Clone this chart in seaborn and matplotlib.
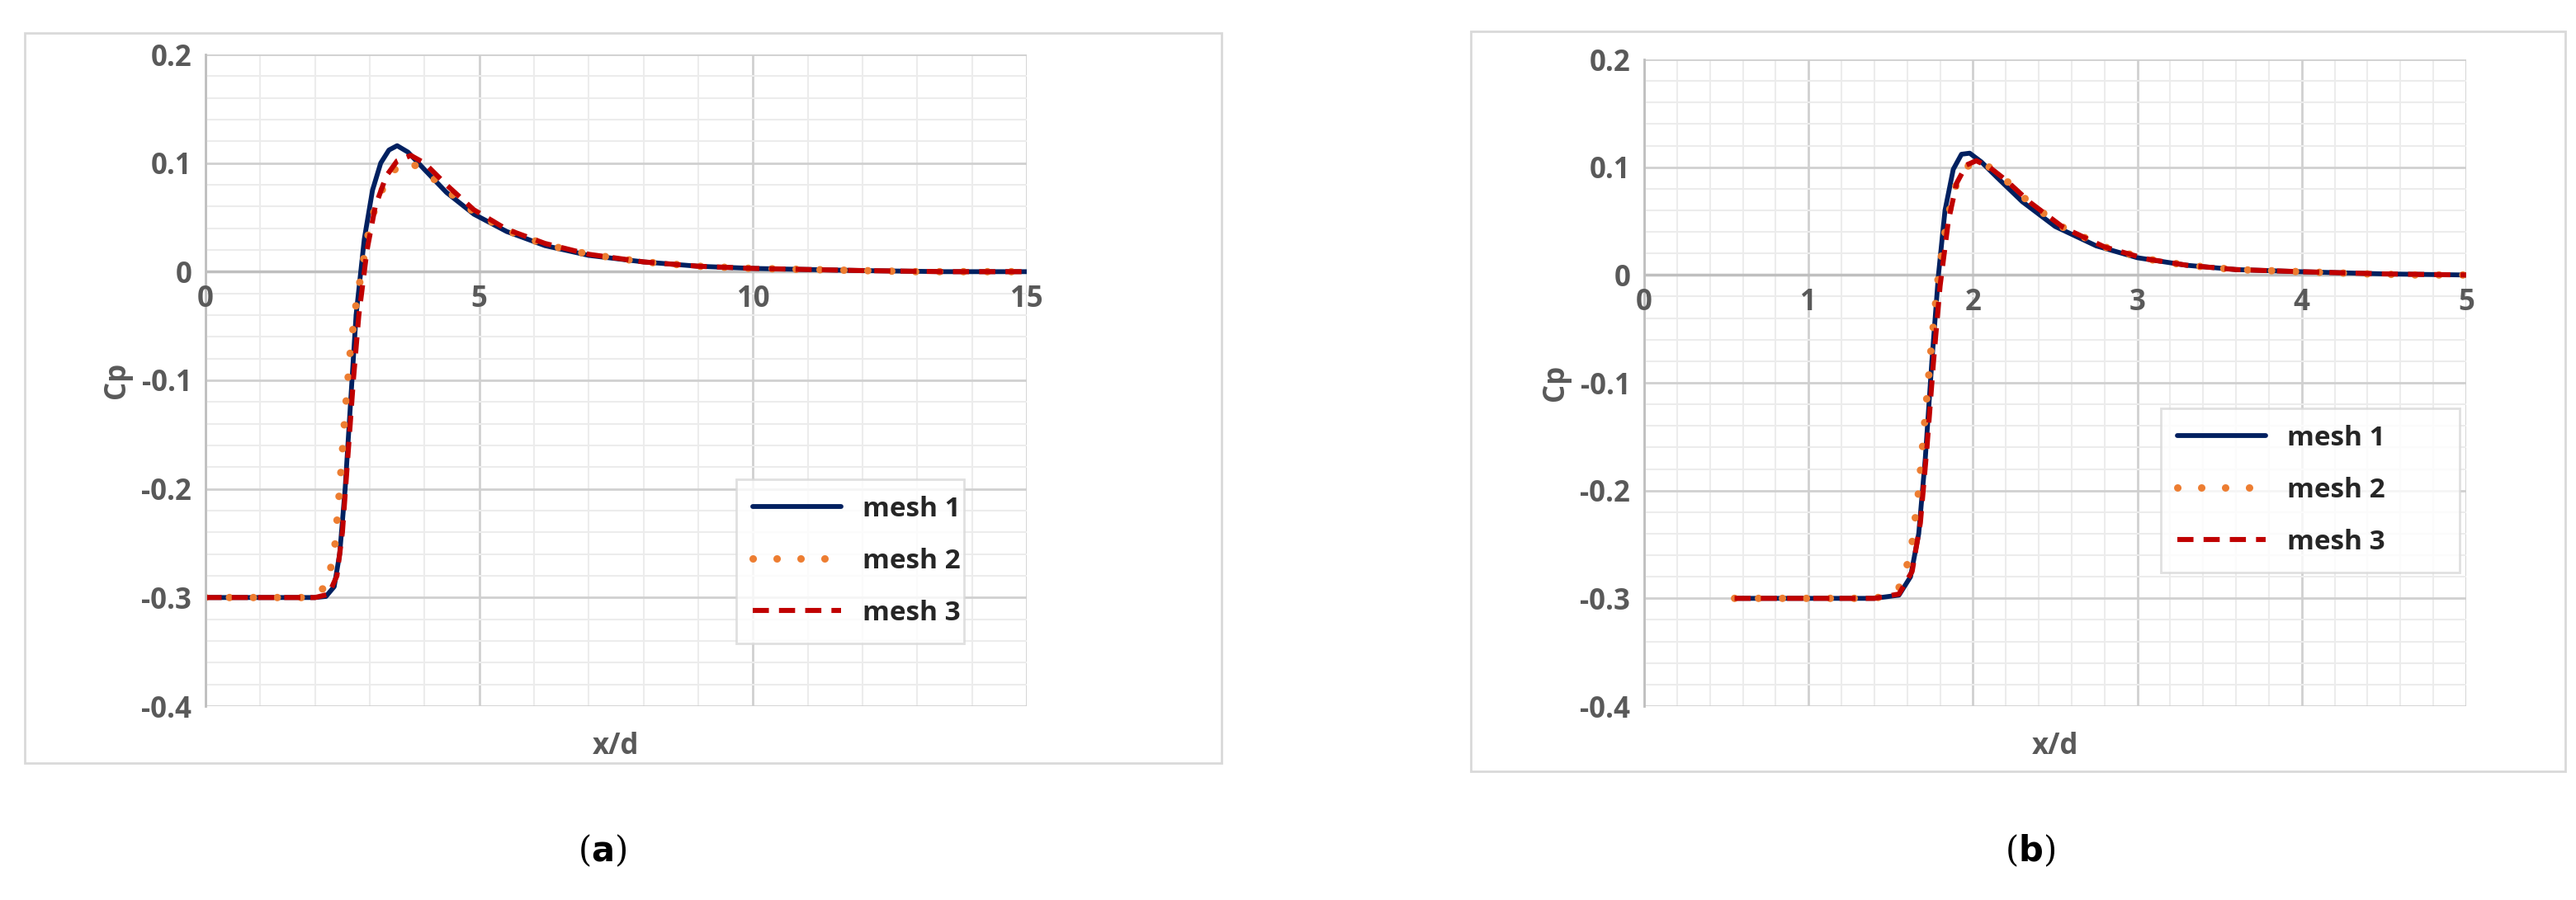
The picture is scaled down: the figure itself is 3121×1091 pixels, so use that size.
import matplotlib
matplotlib.use("Agg")
import matplotlib.pyplot as plt
import seaborn as sns
import pandas as pd
import numpy as np
from matplotlib.patches import Rectangle
from matplotlib.ticker import MultipleLocator

sns.set_style("white")
plt.rcParams['font.family'] = ['Open Sans', 'DejaVu Sans']

# Panel (a)
a_x1 = [0, 1, 2, 2.2, 2.35, 2.45, 2.55, 2.65, 2.75, 2.9, 3.05, 3.2, 3.35, 3.5, 3.7, 4.0, 4.4, 4.9, 5.5, 6.2, 7, 8, 9, 10, 11, 12, 13.5, 15]
a_y1 = [-0.3, -0.3, -0.3, -0.299, -0.29, -0.26, -0.2, -0.12, -0.04, 0.03, 0.075, 0.1, 0.112, 0.116, 0.11, 0.094, 0.073, 0.053, 0.037, 0.024, 0.015, 0.009, 0.005, 0.003, 0.002, 0.001, 0.0, 0.0]
a_x2 = [0, 0.5, 1, 1.5, 1.9, 2.2, 2.35, 2.45, 2.55, 2.65, 2.75, 2.85, 2.95, 3.1, 3.25, 3.4, 3.55, 3.75, 4.0, 4.4, 4.9, 5.5, 6.2, 7, 8, 9, 10, 11, 12, 13, 14, 15]
a_y2 = [-0.3, -0.3, -0.3, -0.3, -0.3, -0.29, -0.26, -0.2, -0.13, -0.07, -0.03, 0.0, 0.03, 0.06, 0.078, 0.09, 0.1, 0.1, 0.093, 0.075, 0.055, 0.038, 0.025, 0.016, 0.009, 0.005, 0.003, 0.002, 0.001, 0.0, 0.0, 0.0]
a_x3 = [0, 1, 2, 2.25, 2.4, 2.5, 2.6, 2.7, 2.8, 2.95, 3.1, 3.3, 3.5, 3.75, 4.0, 4.4, 4.9, 5.5, 6.2, 7, 8, 9, 10, 11, 12, 13.5, 15]
a_y3 = [-0.3, -0.3, -0.3, -0.297, -0.28, -0.24, -0.17, -0.1, -0.04, 0.02, 0.06, 0.088, 0.102, 0.107, 0.1, 0.08, 0.057, 0.039, 0.026, 0.016, 0.009, 0.005, 0.003, 0.002, 0.001, 0.0, 0.0]

# Panel (b)
b_x1 = [0.55, 1.0, 1.4, 1.55, 1.62, 1.67, 1.71, 1.75, 1.79, 1.83, 1.88, 1.93, 1.98, 2.05, 2.15, 2.3, 2.5, 2.75, 3.0, 3.3, 3.6, 4.0, 4.5, 5.0]
b_y1 = [-0.3, -0.3, -0.3, -0.297, -0.28, -0.24, -0.17, -0.08, 0.0, 0.06, 0.098, 0.112, 0.113, 0.105, 0.09, 0.068, 0.045, 0.027, 0.016, 0.009, 0.005, 0.003, 0.001, 0.0]
b_x2 = [0.55, 0.7, 0.85, 1.0, 1.15, 1.3, 1.45, 1.55, 1.62, 1.67, 1.71, 1.75, 1.79, 1.84, 1.9, 1.96, 2.02, 2.1, 2.2, 2.35, 2.55, 2.8, 3.05, 3.3, 3.6, 4.0, 4.4, 4.7, 5.0]
b_y2 = [-0.3, -0.3, -0.3, -0.3, -0.3, -0.3, -0.299, -0.29, -0.26, -0.2, -0.13, -0.06, 0.0, 0.05, 0.085, 0.1, 0.106, 0.1, 0.088, 0.066, 0.044, 0.026, 0.015, 0.009, 0.005, 0.003, 0.001, 0.0, 0.0]
b_x3 = [0.55, 1.0, 1.4, 1.55, 1.63, 1.68, 1.72, 1.76, 1.8, 1.85, 1.9, 1.96, 2.02, 2.1, 2.2, 2.35, 2.55, 2.8, 3.05, 3.3, 3.6, 4.0, 4.5, 5.0]
b_y3 = [-0.3, -0.3, -0.3, -0.296, -0.275, -0.23, -0.16, -0.08, -0.01, 0.05, 0.085, 0.102, 0.106, 0.1, 0.088, 0.067, 0.044, 0.026, 0.015, 0.009, 0.005, 0.003, 0.001, 0.0]

labels = ["mesh 1", "mesh 2", "mesh 3"]
colors = ["#002060", "#ED7D31", "#C00000"]
yticks = [0.2, 0.1, 0, -0.1, -0.2, -0.3, -0.4]

W, H = 3121, 1091
fig = plt.figure(figsize=(W / 100, H / 100), dpi=100)

def fx(px): return px / W
def fy(py): return 1 - py / H

# frames
for (x0, y0, x1, y1) in [(30, 40, 1480, 925), (1782, 38, 3108, 935)]:
    fig.patches.append(Rectangle((fx(x0), fy(y1)), fx(x1) - fx(x0), fy(y0) - fy(y1),
                                 transform=fig.transFigure, fill=False, edgecolor="#d9d9d9", lw=2))

gray = "#595959"

def panel(rect, data, xmax, xmajor, xminor, legend_rect, caption, cap_x):
    l, t, r, b = rect
    ax = fig.add_axes([fx(l), fy(b), fx(r) - fx(l), fy(t) - fy(b)])
    styles = [dict(lw=4.2, ls="-"), dict(lw=6.5, ls=(0, (0.01, 3.2)), dash_capstyle="round"),
              dict(lw=4.4, ls=(0, (3.2, 2.0)))]
    for i, (xs, ys) in enumerate(data):
        df = pd.DataFrame({"x": xs, "y": ys})
        sns.lineplot(data=df, x="x", y="y", ax=ax, color=colors[i], label=labels[i],
                     sort=False, estimator=None, **styles[i])
    ax.set_xlim(0, xmax)
    ax.set_ylim(-0.4, 0.2)
    ax.xaxis.set_major_locator(MultipleLocator(xmajor))
    ax.xaxis.set_minor_locator(MultipleLocator(xminor))
    ax.set_yticks(yticks)
    ax.set_yticklabels([("%g" % v) for v in yticks])
    ax.yaxis.set_minor_locator(MultipleLocator(0.02))
    ax.grid(True, which="major", color="#d0d0d0", lw=2)
    ax.grid(True, which="minor", color="#ececec", lw=1.5)
    ax.set_axisbelow(True)
    for s in ["top", "right", "bottom"]:
        ax.spines[s].set_visible(False)
    ax.spines["left"].set_color("#bfbfbf")
    ax.spines["left"].set_linewidth(2)
    ax.axhline(0, color="#bfbfbf", lw=2.5, zorder=1)
    ax.tick_params(axis="both", which="both", length=0, labelsize=25, labelcolor=gray, pad=12)
    for lab in ax.get_yticklabels():
        lab.set_fontweight("bold")
    for xt in ax.get_xticks():
        if 0 <= xt <= xmax:
            ax.text(xt, -0.012, "%g" % xt, ha="center", va="top", fontsize=25,
                    color=gray, fontweight="bold")
    ax.set_xticklabels([])
    ax.set_xlabel("x/d", fontsize=25, color=gray, fontweight="bold", labelpad=10)
    ax.set_ylabel("Cp", fontsize=25, color=gray, fontweight="bold", labelpad=8)
    ax.get_legend().remove()
    h, lb = ax.get_legend_handles_labels()
    lx0, ly0, lx1, ly1 = legend_rect
    leg = fig.legend(h, lb, loc="lower left",
                     bbox_to_anchor=(fx(lx0), fy(ly1), fx(lx1) - fx(lx0), fy(ly0) - fy(ly1)),
                     mode="expand", fontsize=24, frameon=True, fancybox=False,
                     edgecolor="#d9d9d9", handlelength=3.2, labelspacing=0.9,
                     borderaxespad=0, borderpad=0.6)
    leg.get_frame().set_linewidth(2)
    for tx in leg.get_texts():
        tx.set_fontweight("bold")
        tx.set_color("#262626")
    fig.text(fx(cap_x), fy(1032), r"(" + r"$\mathbf{" + caption + r"}$" + ")",
             ha="center", va="center", fontsize=30, color="black", family="DejaVu Serif")

panel((249, 66, 1244, 856), [(a_x1, a_y1), (a_x2, a_y2), (a_x3, a_y3)], 15, 5, 1,
      (892, 534, 1168, 780), "a", 730)
panel((1992, 72, 2988, 856), [(b_x1, b_y1), (b_x2, b_y2), (b_x3, b_y3)], 5, 1, 0.2,
      (2618, 448, 2980, 694), "b", 2460)

fig.savefig("out.png", dpi=100)
